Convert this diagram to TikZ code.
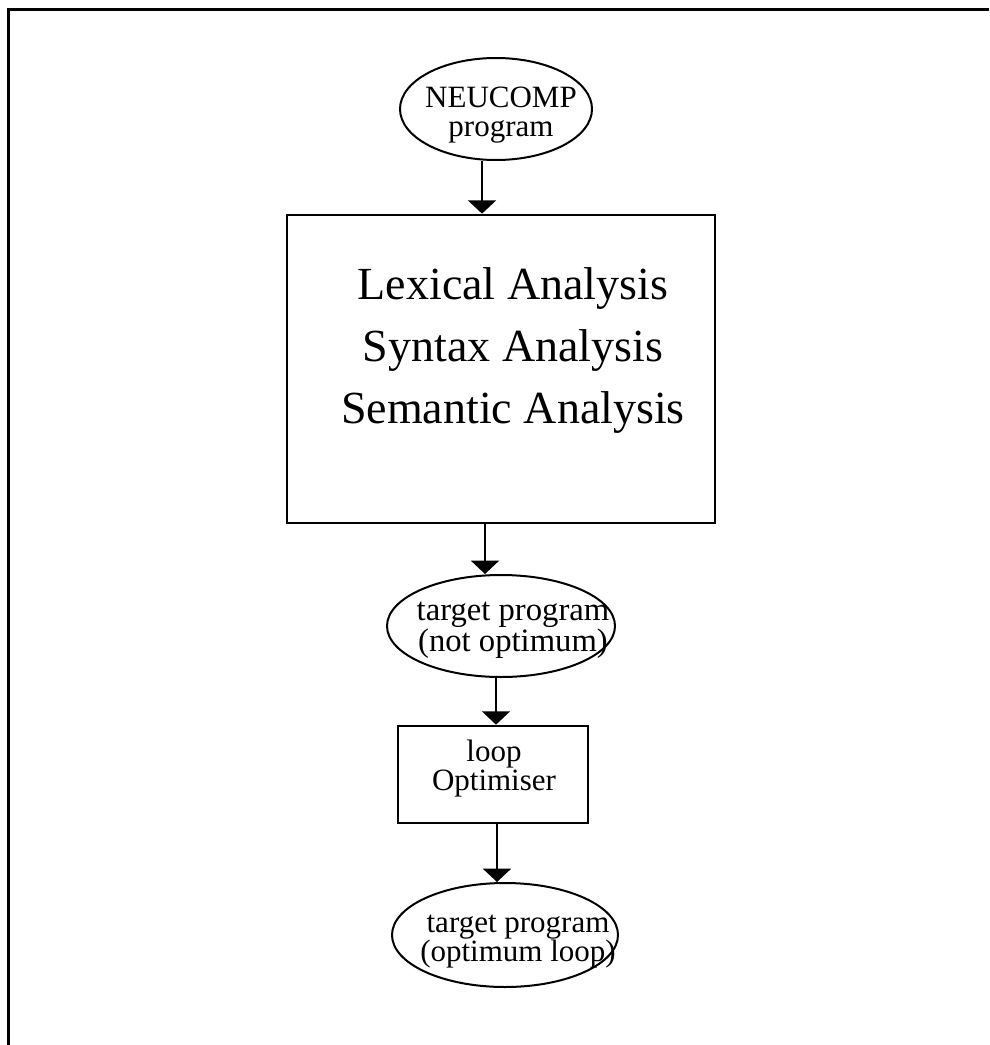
\documentclass[tikz,border=0pt]{standalone}
\usepackage{fontspec}
\setmainfont{Liberation Serif}
\usetikzlibrary{shapes.geometric,arrows.meta}
\begin{document}
\begin{tikzpicture}[x=0.75pt,y=-0.75pt,
  oval/.style={ellipse,draw,line width=1.5pt,inner sep=0pt},
  procbox/.style={rectangle,draw,line width=2pt,inner sep=0pt},
  smalltext/.style={align=center,inner sep=0pt,font=\fontsize{23.25}{21.75}\selectfont},
  bigtext/.style={align=center,inner sep=0pt,font=\fontsize{34.5}{46.5}\selectfont},
  arr/.style={line width=1.5pt,-{Triangle[width=21pt,length=10pt]}},
  frameline/.style={line width=2.25pt}]
\useasboundingbox (0,0) rectangle (989,1045);
% frame (only left and top edges visible)
\coordinate (fbl) at (8.5,1045);
\coordinate (ftl) at (8.5,9.5);
\coordinate (ftr) at (989,9.5);
\draw[frameline] (fbl) -- (ftl) -- (ftr);

% nodes
\node[oval,minimum width=144pt,minimum height=76.5pt] (e1) at (496,109) {};
\node[smalltext] (e1t) at (501,115.5) {NEUCOMP\\program};

\node[procbox,minimum width=321pt,minimum height=231pt] (lexbox) at (501,369) {};
\node[bigtext] (lext) at (513,351) {Lexical Analysis\\Syntax Analysis\\Semantic Analysis};

\node[oval,minimum width=171pt,minimum height=76.5pt] (e2) at (501,626) {};
\node[smalltext,font=\fontsize{24.5}{21.75}\selectfont] (e2t) at (513,630) {target program\\(not optimum)};

\node[procbox,minimum width=142.5pt,minimum height=72.75pt] (loopbox) at (493,774.5) {};
\node[smalltext] (loopt) at (494,769) {loop\\Optimiser};

\node[oval,minimum width=169.5pt,minimum height=78pt] (e3) at (505,935) {};
\node[smalltext] (e3t) at (518,941.5) {target program\\(optimum loop)};

% connector columns
\coordinate (c1) at (482,0);
\coordinate (c2) at (485,0);
\coordinate (c3) at (496,0);
\coordinate (c4) at (497,0);

\draw[arr] (c1 |- e1.south) -- (c1 |- lexbox.north);
\draw[arr] (c2 |- lexbox.south) -- (c2 |- e2.north);
\draw[arr] (c3 |- e2.south) -- (c3 |- loopbox.north);
\draw[arr] (c4 |- loopbox.south) -- (c4 |- e3.north);
\end{tikzpicture}
\end{document}
